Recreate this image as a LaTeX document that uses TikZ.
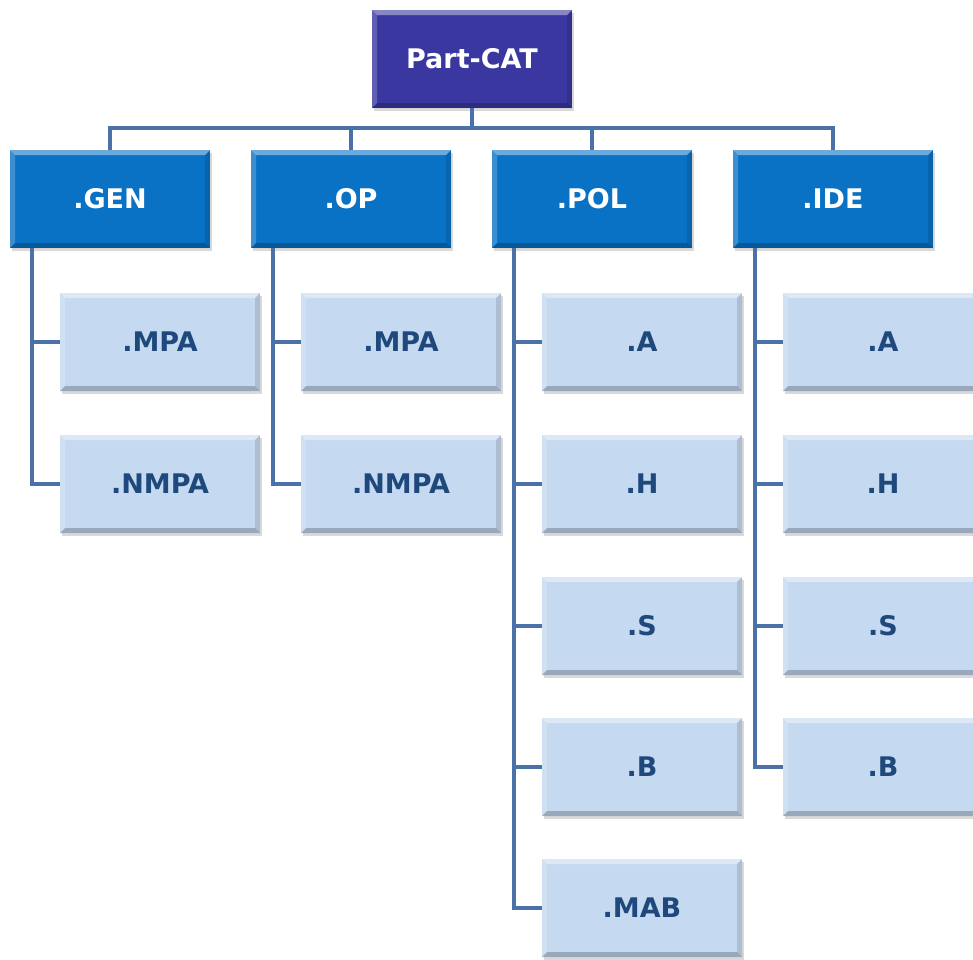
\documentclass[tikz,border=0pt]{standalone}
\usepackage{fontspec}
\setmainfont{DejaVu Sans}
\usetikzlibrary{shadows,calc}
\definecolor{rootc}{RGB}{58,56,160}
\definecolor{midc}{RGB}{10,114,196}
\definecolor{leafc}{RGB}{197,217,240}
\definecolor{linec}{RGB}{74,114,168}
\definecolor{leaftext}{RGB}{31,73,125}
\tikzset{
  bevel/.style={path picture={
    \coordinate (bnw) at (path picture bounding box.north west);
    \coordinate (bne) at (path picture bounding box.north east);
    \coordinate (bsw) at (path picture bounding box.south west);
    \coordinate (bse) at (path picture bounding box.south east);
    \fill[white,opacity=.4] (bnw) -- (bne) -- ([shift={(-#1,-#1)}]bne) -- ([shift={(#1,-#1)}]bnw) -- cycle;
    \fill[white,opacity=.2] (bnw) -- (bsw) -- ([shift={(#1,#1)}]bsw) -- ([shift={(#1,-#1)}]bnw) -- cycle;
    \fill[black,opacity=.22] (bsw) -- (bse) -- ([shift={(-#1,#1)}]bse) -- ([shift={(#1,#1)}]bsw) -- cycle;
    \fill[black,opacity=.12] (bne) -- (bse) -- ([shift={(-#1,#1)}]bse) -- ([shift={(-#1,-#1)}]bne) -- cycle;
  }},
  box/.style={rectangle, minimum width=200pt, minimum height=98pt, inner sep=0pt,
    font=\bfseries\fontsize{27}{32}\selectfont,
    drop shadow={shadow xshift=2pt, shadow yshift=-3pt, opacity=.3}},
  rootbox/.style={box, fill=rootc, text=white, bevel=5pt},
  midbox/.style={box, fill=midc, text=white, bevel=5pt},
  leafbox/.style={box, fill=leafc, text=leaftext, bevel=5pt},
  conn/.style={draw=linec, line width=4pt}
}
\begin{document}
\begin{tikzpicture}[x=1pt,y=-1pt]
\useasboundingbox (0,0) rectangle (973,959);
\clip (0,0) rectangle (973,959);
\coordinate (busy) at (0,128);
% level nodes
\node[rootbox] (root) at (472,59) {Part-CAT};
\node[midbox] (gen) at (110,199) {.GEN};
\node[midbox] (op)  at (351,199) {.OP};
\node[midbox] (pol) at (592,199) {.POL};
\node[midbox] (ide) at (833,199) {.IDE};
% connectors
\draw[conn] (gen.north) -- (gen.north |- busy) -- (ide.north |- busy) -- (ide.north);
\draw[conn] (root.south) -- (root.south |- busy);
\draw[conn] (op.north) -- (op.north |- busy);
\draw[conn] (pol.north) -- (pol.north |- busy);
% leaves
\node[leafbox] (gen1) at (160,342) {.MPA};
\node[leafbox] (gen2) at (160,484) {.NMPA};
\node[leafbox] (op1) at (401,342) {.MPA};
\node[leafbox] (op2) at (401,484) {.NMPA};
\node[leafbox] (pol1) at (642,342) {.A};
\node[leafbox] (pol2) at (642,484) {.H};
\node[leafbox] (pol3) at (642,626) {.S};
\node[leafbox] (pol4) at (642,767) {.B};
\node[leafbox] (pol5) at (642,908) {.MAB};
\node[leafbox] (ide1) at (883,342) {.A};
\node[leafbox] (ide2) at (883,484) {.H};
\node[leafbox] (ide3) at (883,626) {.S};
\node[leafbox] (ide4) at (883,767) {.B};
% branch connectors
\foreach \p/\l in {gen/gen1,gen/gen2,op/op1,op/op2,pol/pol1,pol/pol2,pol/pol3,pol/pol4,pol/pol5,ide/ide1,ide/ide2,ide/ide3,ide/ide4}
  \draw[conn] ([xshift=22pt]\p.south west) |- (\l.west);
\end{tikzpicture}
\end{document}
